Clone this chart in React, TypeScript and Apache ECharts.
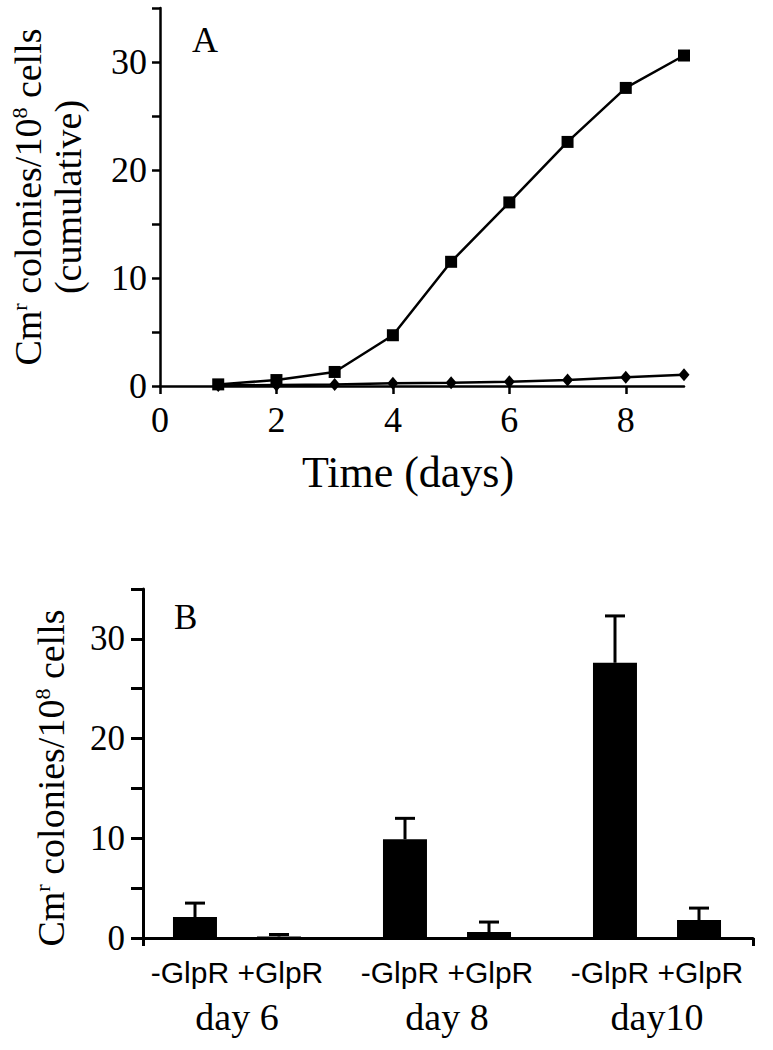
import React, { useEffect, useRef } from 'react';
import * as echarts from 'echarts';

// ---------- Panel A: cumulative Cm^r colonies over time ----------
const days = [1, 2, 3, 4, 5, 6, 7, 8, 9];
const squaresSeries = [0.15, 0.55, 1.3, 4.7, 11.5, 17.0, 22.6, 27.6, 30.6];
const diamondsSeries = [0.05, 0.1, 0.15, 0.25, 0.3, 0.4, 0.55, 0.8, 1.05];
const xTicksA = [0, 2, 4, 6, 8];

// ---------- Panel B: bars per day ----------
const dayGroups = ['day 6', 'day 8', 'day10'];
const conditionLabel = '-GlpR +GlpR';
const minusGlpR = [2.1, 9.9, 27.6];
const minusGlpRErr = [1.4, 2.1, 4.7];
const plusGlpR = [0.15, 0.6, 1.8];
const plusGlpRErr = [0.2, 1.0, 1.2];

const SERIF = 'Liberation Serif, Times New Roman, serif';
const SANS = 'Liberation Sans, Arial, sans-serif';

const yTitleRich = {
  t: { fontFamily: SERIF, fontSize: 38, color: '#000', lineHeight: 40 },
  s: { fontFamily: SERIF, fontSize: 22, color: '#000', verticalAlign: 'top', lineHeight: 40 },
};

export default function App() {
  const ref = useRef<HTMLDivElement>(null);

  useEffect(() => {
    if (!ref.current) return;
    const chart = echarts.init(ref.current, null, { renderer: 'svg' });

    const errData: any[] = [];
    dayGroups.forEach((_, i) => {
      errData.push([i, minusGlpR[i], minusGlpRErr[i], -1]);
      errData.push([i, plusGlpR[i], plusGlpRErr[i], 1]);
    });

    const option: any = {
      animation: false,
      backgroundColor: '#fff',
      grid: [
        { left: 160, top: 8, width: 524, height: 378 },
        { left: 132, top: 589, width: 630, height: 349 },
        { left: 143, top: 589, width: 610, height: 349 },
      ],
      xAxis: [
        {
          gridIndex: 0,
          type: 'value',
          min: 0,
          max: 9,
          interval: 2,
          axisLine: { show: true, onZero: false, lineStyle: { color: '#000', width: 2.5 } },
          axisTick: { show: true, length: 8, customValues: xTicksA, lineStyle: { color: '#000', width: 2.5 } },
          axisLabel: {
            customValues: xTicksA,
            margin: 16,
            fontFamily: SERIF,
            fontSize: 36,
            color: '#000',
          },
          splitLine: { show: false },
          name: 'Time (days)',
          nameLocation: 'middle',
          nameGap: 64,
          nameTextStyle: { fontFamily: SERIF, fontSize: 44, color: '#000', padding: [0, 28, 0, 0] },
        },
        {
          gridIndex: 1,
          type: 'category',
          data: dayGroups,
          axisLine: { show: false },
          axisTick: { show: false },
          axisLabel: {
            margin: 14,
            formatter: (v: string) => `{a|${conditionLabel}}\n{b|${v}}`,
            rich: {
              a: { fontFamily: SANS, fontSize: 30, color: '#000', lineHeight: 40 },
              b: { fontFamily: SERIF, fontSize: 38, color: '#000', lineHeight: 50 },
            },
          },
        },
        {
          gridIndex: 2,
          type: 'value',
          min: 0,
          max: 1,
          axisLine: { show: true, onZero: false, lineStyle: { color: '#000', width: 3 } },
          axisTick: { show: true, length: 8, customValues: [0, 1], lineStyle: { color: '#000', width: 3 } },
          axisLabel: { show: false },
          splitLine: { show: false },
        },
      ],
      yAxis: [
        {
          gridIndex: 0,
          type: 'value',
          min: 0,
          max: 35,
          interval: 5,
          axisLine: { show: true, lineStyle: { color: '#000', width: 2.5 } },
          axisTick: { show: true, length: 8, lineStyle: { color: '#000', width: 2.5 } },
          axisLabel: {
            margin: 13,
            fontFamily: SERIF,
            fontSize: 36,
            color: '#000',
            formatter: (v: number) => (v % 10 === 0 ? String(v) : ''),
          },
          splitLine: { show: false },
          name: '{t|Cm}{s|r}{t| colonies/10}{s|8}{t| cells}\n{t|(cumulative)}',
          nameLocation: 'middle',
          nameRotate: 90,
          nameGap: 72,
          nameTextStyle: { rich: yTitleRich, align: 'center' },
        },
        {
          gridIndex: 1,
          type: 'value',
          min: 0,
          max: 35,
          show: false,
        },
        {
          gridIndex: 2,
          type: 'value',
          min: 0,
          max: 35,
          interval: 5,
          axisLine: { show: true, lineStyle: { color: '#000', width: 3 } },
          axisTick: { show: true, length: 12, lineStyle: { color: '#000', width: 3 } },
          axisLabel: {
            margin: 18,
            fontFamily: SERIF,
            fontSize: 35,
            color: '#000',
            formatter: (v: number) => (v % 10 === 0 ? String(v) : ''),
          },
          splitLine: { show: false },
          name: '{t|Cm}{s|r}{t| colonies/10}{s|8}{t| cells}',
          nameLocation: 'middle',
          nameRotate: 90,
          nameGap: 72,
          nameTextStyle: { rich: yTitleRich, padding: [0, 29, 0, 0] },
        },
      ],
      graphic: [
        { type: 'text', left: 192, top: 22, style: { text: 'A', font: `36px ${SERIF}`, fill: '#000' } },
        { type: 'text', left: 174, top: 600, style: { text: 'B', font: `35px ${SERIF}`, fill: '#000' } },
      ],
      series: [
        {
          name: '+GlpR cumulative',
          type: 'line',
          xAxisIndex: 0,
          yAxisIndex: 0,
          data: days.map((d, i) => [d, diamondsSeries[i]]),
          symbol: 'diamond',
          symbolSize: [11, 13],
          lineStyle: { color: '#000', width: 2.5 },
          itemStyle: { color: '#000' },
          z: 3,
        },
        {
          name: '-GlpR cumulative',
          type: 'line',
          xAxisIndex: 0,
          yAxisIndex: 0,
          data: days.map((d, i) => [d, squaresSeries[i]]),
          symbol: 'rect',
          symbolSize: 12,
          lineStyle: { color: '#000', width: 2.5 },
          itemStyle: { color: '#000' },
          z: 4,
        },
        {
          name: '-GlpR',
          type: 'bar',
          xAxisIndex: 1,
          yAxisIndex: 1,
          data: minusGlpR,
          barWidth: 44,
          barGap: '91%',
          itemStyle: { color: '#000' },
        },
        {
          name: '+GlpR',
          type: 'bar',
          xAxisIndex: 1,
          yAxisIndex: 1,
          data: plusGlpR,
          barWidth: 44,
          itemStyle: { color: '#000' },
        },
        {
          name: 'error',
          type: 'custom',
          xAxisIndex: 1,
          yAxisIndex: 1,
          data: errData,
          encode: { x: 0, y: 1 },
          z: 5,
          renderItem: (params: any, api: any) => {
            const ci = api.value(0);
            const mean = api.value(1);
            const err = api.value(2);
            const side = api.value(3);
            const base = api.coord([ci, mean]);
            const top = api.coord([ci, mean + err]);
            const bandW = api.size([1, 0])[0];
            const x = base[0] + side * bandW * 0.2;
            const cap = 10;
            return {
              type: 'group',
              children: [
                { type: 'line', shape: { x1: x, y1: base[1], x2: x, y2: top[1] }, style: { stroke: '#000', lineWidth: 3 } },
                { type: 'line', shape: { x1: x - cap, y1: top[1], x2: x + cap, y2: top[1] }, style: { stroke: '#000', lineWidth: 3 } },
              ],
            };
          },
        },
      ],
    };

    chart.setOption(option);
    return () => chart.dispose();
  }, []);

  return (
    <div
      ref={ref}
      style={{ position: 'absolute', left: 0, top: 0, width: 773, height: 1050, background: '#fff' }}
    />
  );
}
